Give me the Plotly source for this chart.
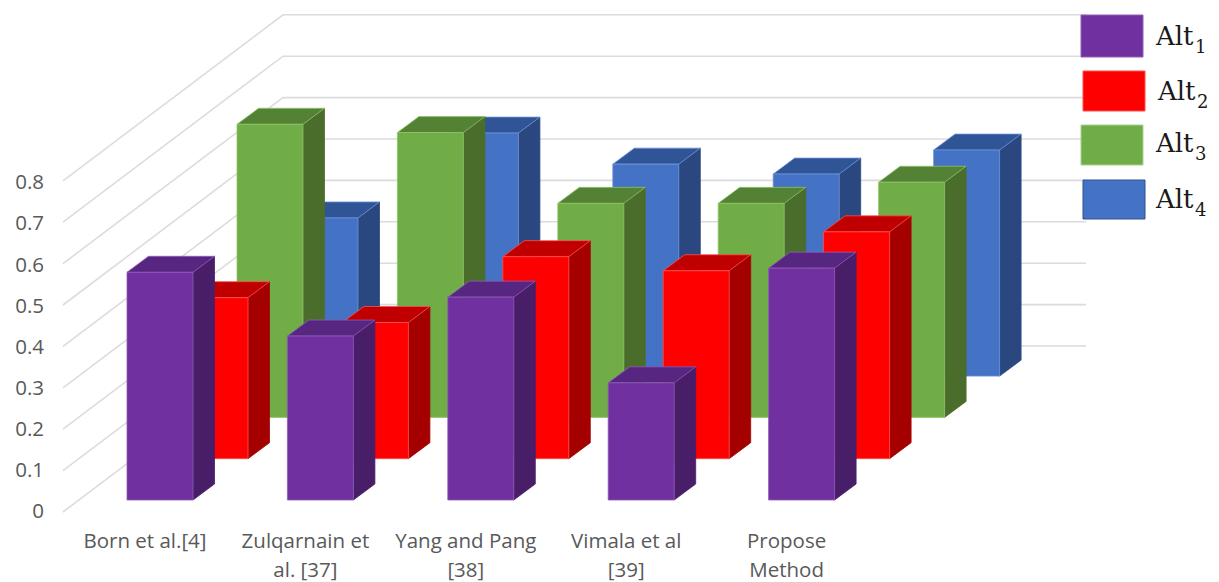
import plotly.graph_objects as go

# ---- data ----
categories_line1 = ["Born et al.[4]", "Zulqarnain et", "Yang and Pang", "Vimala et al", "Propose"]
categories_line2 = ["", "al. [37]", "[38]", "[39]", "Method"]
series_names = ["Alt", "Alt", "Alt", "Alt"]
series_subs = ["1", "2", "3", "4"]
alt1 = [0.55, 0.396, 0.49, 0.283, 0.56]
alt2 = [0.389, 0.329, 0.488, 0.454, 0.548]
alt3 = [0.708, 0.688, 0.517, 0.517, 0.568]
alt4 = [0.382, 0.587, 0.512, 0.488, 0.546]
y_ticks = [0, 0.1, 0.2, 0.3, 0.4, 0.5, 0.6, 0.7, 0.8]
y_tick_text = ["0", "0.1", "0.2", "0.3", "0.4", "0.5", "0.6", "0.7", "0.8"]

# ---- oblique projection constants (pixels of the 1219x582 canvas) ----
W, H = 1219, 582
PX_X = 160.4        # px per category
PX_Y = 414.0        # px per value unit
X_ZERO = 145.0      # pixel x of first category label centre
Y_ZERO = 500.0      # pixel y of the front baseline
BAR_LEFT = -18.0 / PX_X
BAR_W = 66.0 / PX_X
SER_DX, SER_DY = 55.0 / PX_X, 41.3 / PX_Y
SIDE_DX, SIDE_DY = 21.5 / PX_X, 16.0 / PX_Y

x_range = [-X_ZERO / PX_X, (W - X_ZERO) / PX_X]
y_range = [-(H - Y_ZERO) / PX_Y, Y_ZERO / PX_Y]

GRID = "#dcdcdc"
FACES = [  # front, top, side, outline
    ("#7030A0", "#562680", "#481E69", "#8F5CB8"),
    ("#FF0000", "#C00000", "#A50000", "#FF5050"),
    ("#70AD47", "#548235", "#4B6D2B", "#8FC46B"),
    ("#4472C4", "#2F5597", "#2A4780", "#6D93D8"),
]
all_series = [alt1, alt2, alt3, alt4]

fig = go.Figure()

# walls: left wall then back wall, one polyline per tick value
wall_x0 = (63 - X_ZERO) / PX_X
wall_x1 = (283 - X_ZERO) / PX_X
wall_x2 = (1086 - X_ZERO) / PX_X
wall_front = (Y_ZERO - 512) / PX_Y
wall_back = (Y_ZERO - 346) / PX_Y
gx, gy = [], []
for v in y_ticks:
    gx += [wall_x0, wall_x1, wall_x2, None]
    gy += [v + wall_front, v + wall_back, v + wall_back, None]
fig.add_trace(go.Scatter(x=gx, y=gy, mode="lines", line=dict(color=GRID, width=1.6),
                         hoverinfo="skip", showlegend=False))


def face_trace(xs, ys, fill, edge, name):
    return go.Scatter(x=xs, y=ys, mode="lines", fill="toself", fillcolor=fill,
                      line=dict(color=edge, width=0.8), name=name, showlegend=False,
                      hoverinfo="skip")


# paint from the rear series to the front one
for s in range(3, -1, -1):
    front, top, side, edge = FACES[s]
    fx, fy, tx, ty, sx, sy = [], [], [], [], [], []
    for i, v in enumerate(all_series[s]):
        x0 = i + BAR_LEFT + s * SER_DX
        x1 = x0 + BAR_W
        y0 = s * SER_DY
        y1 = y0 + v
        fx += [x0, x1, x1, x0, x0, None]
        fy += [y0, y0, y1, y1, y0, None]
        tx += [x0, x1, x1 + SIDE_DX, x0 + SIDE_DX, x0, None]
        ty += [y1, y1, y1 + SIDE_DY, y1 + SIDE_DY, y1, None]
        sx += [x1, x1 + SIDE_DX, x1 + SIDE_DX, x1, x1, None]
        sy += [y0, y0 + SIDE_DY, y1 + SIDE_DY, y1, y0, None]
    name = series_names[s] + series_subs[s]
    fig.add_trace(face_trace(sx, sy, side, side, name))
    fig.add_trace(face_trace(tx, ty, top, edge, name))
    fig.add_trace(face_trace(fx, fy, front, edge, name))

# invisible carriers so the label-only axes are drawn
fig.add_trace(go.Scatter(x=[0], y=[0], xaxis="x2", yaxis="y2", mode="markers",
                         marker=dict(opacity=0), hoverinfo="skip", showlegend=False))
fig.add_trace(go.Scatter(x=[0], y=[0], xaxis="x3", yaxis="y2", mode="markers",
                         marker=dict(opacity=0), hoverinfo="skip", showlegend=False))

TICK_FONT = dict(family="Open Sans", size=20.5, color="#595959")
tick_axis = dict(range=x_range, tickmode="array", tickvals=list(range(5)), ticklen=0,
                 showgrid=False, zeroline=False, showline=False, tickfont=TICK_FONT,
                 overlaying="x", anchor="free", fixedrange=True, tickangle=0, automargin=False)

# legend swatches and labels (canvas pixels)
legend_boxes = [(1081, 15, 1143, 57), (1083, 71, 1145, 111), (1081, 125, 1143, 165), (1083, 180, 1145, 219)]
legend_text_x = [1155, 1157, 1155, 1155]
legend_text_y = [36, 91, 143, 199]
legend_edges = ["#8F5CB8", "#FF5050", "#A9D18E", "#2F528F"]
LEGEND_SERIF = "DejaVu Serif"
shapes, annots = [], []
for k, (x0, y0, x1, y1) in enumerate(legend_boxes):
    shapes.append(dict(type="rect", xref="paper", yref="paper", x0=x0 / W, x1=x1 / W,
                       y0=1 - y0 / H, y1=1 - y1 / H, fillcolor=FACES[k][0],
                       line=dict(color=legend_edges[k], width=1)))
    annots.append(dict(xref="paper", yref="paper", x=legend_text_x[k] / W, y=1 - legend_text_y[k] / H,
                       text=series_names[k], showarrow=False, xanchor="left", yanchor="middle",
                       xshift=-2, font=dict(family=LEGEND_SERIF, size=26, color="#1a1a1a")))
    annots.append(dict(xref="paper", yref="paper", x=legend_text_x[k] / W, y=1 - legend_text_y[k] / H,
                       text=series_subs[k], showarrow=False, xanchor="left", yanchor="middle",
                       xshift=38, yshift=-10, font=dict(family=LEGEND_SERIF, size=18, color="#1a1a1a")))

fig.update_layout(
    width=W, height=H, margin=dict(l=0, r=0, t=0, b=0), autosize=False,
    paper_bgcolor="white", plot_bgcolor="white", showlegend=False,
    xaxis=dict(range=x_range, visible=False, fixedrange=True),
    yaxis=dict(range=y_range, visible=False, fixedrange=True),
    xaxis2=dict(tick_axis, ticktext=categories_line1, position=1 - 526 / H),
    xaxis3=dict(tick_axis, ticktext=categories_line2, position=1 - 555 / H),
    yaxis2=dict(range=[-(H - 511) / 411.0, 511 / 411.0], overlaying="y", anchor="free",
                position=44 / W, tickmode="array", tickvals=y_ticks, ticktext=y_tick_text,
                ticklen=0, showgrid=False, zeroline=False, showline=False, automargin=False,
                tickfont=TICK_FONT, fixedrange=True),
    shapes=shapes, annotations=annots,
)

fig.write_html("out.html", config=dict(displayModeBar=False),
               post_script="document.body.style.margin='0';document.body.style.overflow='hidden';")
